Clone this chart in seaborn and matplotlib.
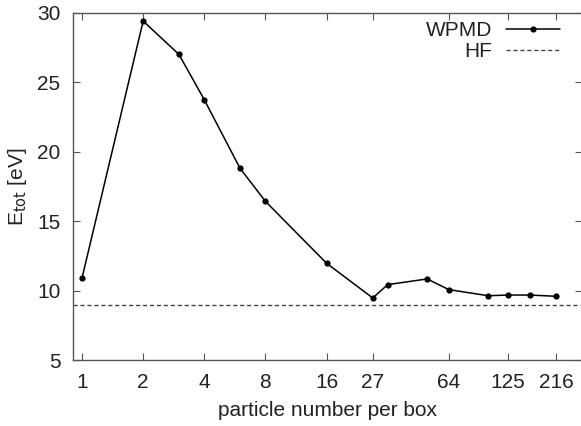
import matplotlib
matplotlib.use("Agg")
import matplotlib.pyplot as plt
import seaborn as sns
import pandas as pd
from matplotlib.ticker import FixedLocator, NullLocator

particles = [1, 2, 3, 4, 6, 8, 16, 27, 32, 50, 64, 100, 125, 160, 216]
e_wpmd = [10.9, 29.42, 27.02, 23.75, 18.81, 16.43, 11.97, 9.47, 10.43, 10.84, 10.07, 9.63, 9.68, 9.68, 9.59]
e_hf = 8.96
xticks = [1, 2, 4, 8, 16, 27, 64, 125, 216]
yticks = [5, 10, 15, 20, 25, 30]

sns.set_theme(style="ticks")
plt.rcParams['font.family'] = ['Liberation Sans', 'DejaVu Sans']

fig = plt.figure(figsize=(5.81, 4.26), dpi=100)
ax = fig.add_axes([73/581, 1-360/426, 1.002-73/581, (360-13)/426])

df = pd.DataFrame({"n": particles, "E": e_wpmd})
sns.lineplot(data=df, x="n", y="E", ax=ax, color="black", lw=1.1,
             marker="o", markersize=4.5, markeredgewidth=0, label="WPMD")
ax.axhline(e_hf, color="#444444", lw=1.0, ls=(0, (3, 2)), label="HF")

ax.set_xscale("log")
ax.set_xlim(0.903, 290)
ax.set_ylim(5, 30)
ax.xaxis.set_major_locator(FixedLocator(xticks))
ax.xaxis.set_minor_locator(NullLocator())
ax.set_xticklabels([str(t) for t in xticks])
ax.set_yticks(yticks)
ax.set_yticklabels([str(t) for t in yticks])

for s in ax.spines.values():
    s.set_color("#555555")
    s.set_linewidth(1.0)
ax.tick_params(direction="in", length=5, width=0.8, color="#555555",
               labelsize=15, labelcolor="#222222", top=True, right=True, pad=9)

ax.set_xlabel("particle number per box", fontsize=15, color="#222222", labelpad=7)
ax.set_ylabel("E$_{\\rm tot}$ [eV]", fontsize=15, color="#222222", labelpad=6)

leg = ax.legend(loc="upper right", frameon=False, markerfirst=False, fontsize=15,
                handlelength=2.6, handletextpad=0.65, labelspacing=0.1,
                borderaxespad=0.0, borderpad=0.0, bbox_to_anchor=(0.957, 0.976))
for t in leg.get_texts():
    t.set_color("#222222")

fig.savefig("out.png", dpi=100)
